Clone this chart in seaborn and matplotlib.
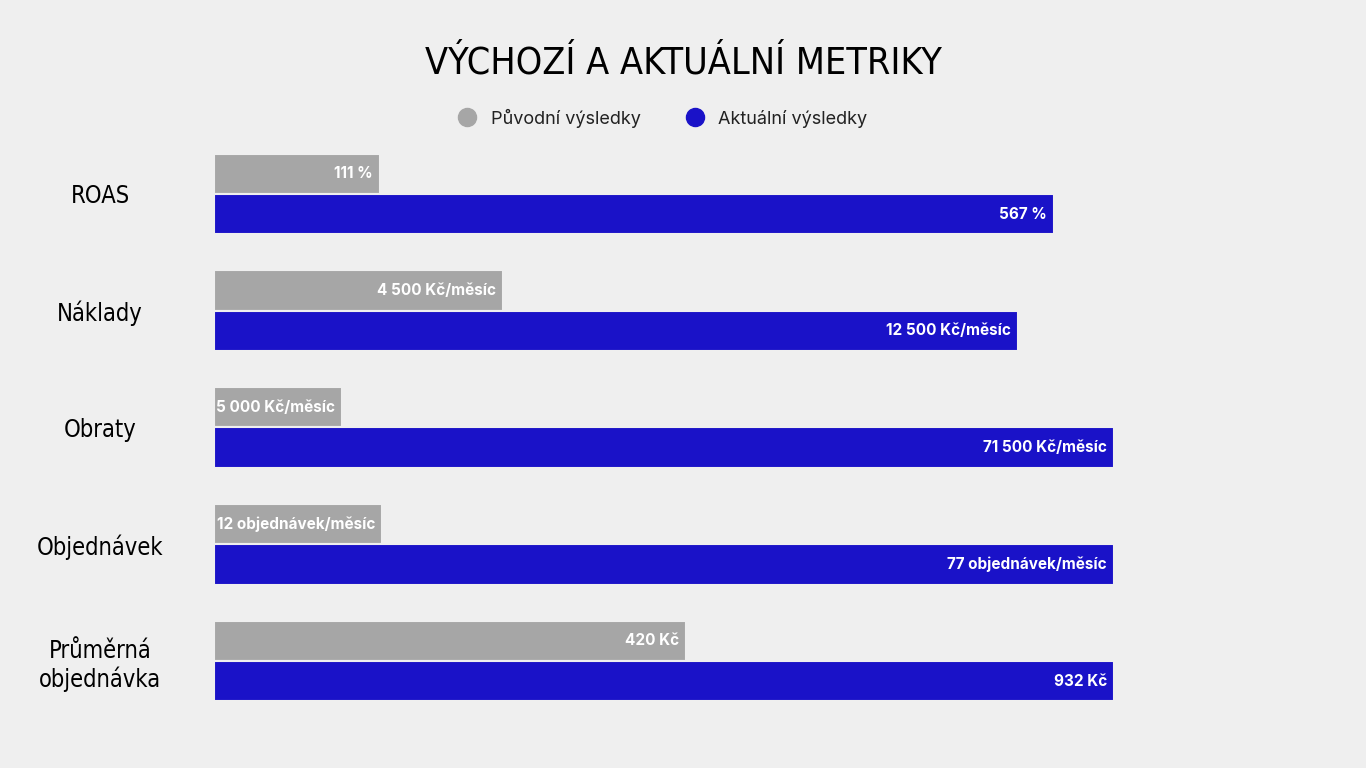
import pandas as pd
import seaborn as sns
import matplotlib.pyplot as plt
from matplotlib.lines import Line2D

# rows and displayed bar lengths (as drawn in the infographic, px-like units)
categories = ['ROAS', 'Náklady', 'Obraty', 'Objednávek', 'Průměrná\nobjednávka']
before_len = [166, 289, 128, 168, 472]
after_len = [840, 804, 900, 900, 900]
before_txt = ['111 %', '4 500 Kč/měsíc', '5 000 Kč/měsíc', '12 objednávek/měsíc', '420 Kč']
after_txt = ['567 %', '12 500 Kč/měsíc', '71 500 Kč/měsíc', '77 objednávek/měsíc', '932 Kč']
series = ['Původní výsledky', 'Aktuální výsledky']
colors = ['#a6a6a6', '#1a12c8']
bg = '#efefef'
narrow = ['DejaVu Sans']

df = pd.DataFrame({
    'metric': categories * 2,
    'value': before_len + after_len,
    'series': [series[0]] * 5 + [series[1]] * 5,
})

sns.set_theme(style='white')
plt.rcParams['font.family'] = ['Inter', 'DejaVu Sans']

fig = plt.figure(figsize=(13.66, 7.68), dpi=100, facecolor=bg)
ax = fig.add_axes([214 / 1366, 1 - 719.4 / 768, 1152 / 1366, 583.8 / 768])
ax.set_facecolor(bg)
sns.barplot(data=df, y='metric', x='value', hue='series', palette=colors,
            saturation=1, width=0.69, orient='h', ax=ax, legend=False,
            edgecolor=bg, linewidth=1.5)
ax.set_xlim(0, 1152)
ax.set_ylim(4.5, -0.5)

for cont, texts in zip(ax.containers, [before_txt, after_txt]):
    for patch, t in zip(cont.patches, texts):
        ax.text(patch.get_width() - 7, patch.get_y() + patch.get_height() / 2, t,
                ha='right', va='center', color='white', fontsize=11, fontweight='bold')

ax.set_xlabel('')
ax.set_ylabel('')
ax.set_xticks([])
ax.tick_params(axis='y', length=0, pad=82)
for lab in ax.get_yticklabels():
    lab.set_fontfamily(narrow)
    lab.set_fontstretch('condensed')
    lab.set_fontsize(17)
    lab.set_color('black')
    lab.set_horizontalalignment('center')
sns.despine(ax=ax, left=True, bottom=True)

fig.text(0.5, 1 - 63 / 768, 'VÝCHOZÍ A AKTUÁLNÍ METRIKY', ha='center', va='center',
         fontsize=27, family=narrow, fontstretch='condensed', color='black')

handles = [Line2D([0], [0], marker='o', linestyle='', markersize=13,
                  markerfacecolor=c, markeredgecolor=c) for c in colors]
fig.legend(handles, series, loc='center', bbox_to_anchor=(0.482, 1 - 118 / 768),
           ncol=2, frameon=False, fontsize=13, handletextpad=0.3, columnspacing=2.0,
           labelcolor='#222222')

fig.savefig('out.png', dpi=100, facecolor=bg)
